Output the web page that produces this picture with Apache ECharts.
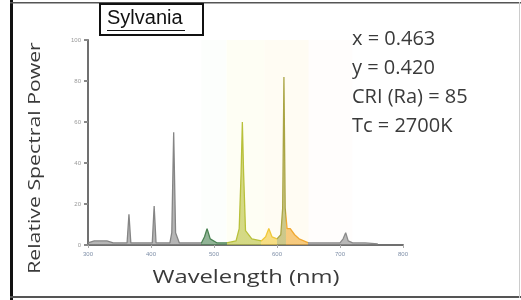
<!DOCTYPE html>
<html lang="en" style="height: 100%">
<head>
  <meta charset="utf-8">
</head>
<body style="height: 100%; margin: 0; background: #fff">
  <div id="container" style="width: 521px; height: 300px"></div>
  <script src="https://fastly.jsdelivr.net/npm/echarts@6/dist/echarts.min.js"></script>
  <script>
    // spectrum (nm, relative power)
    var wavelength = [300, 310, 320, 330, 340, 355, 362, 365, 368, 380, 395, 402, 405, 408, 420, 430, 433, 436, 439, 445,
      470, 480, 485, 489, 494, 505, 520, 535, 540, 543, 545, 547, 550, 560, 575, 582, 587, 592, 600, 606, 609,
      611, 613, 616, 621, 628, 635, 650, 680, 700, 705, 709, 713, 720, 740, 760];
    var power = [1, 2, 2, 2, 1, 1, 1, 15, 1, 1, 1, 1, 19, 1, 1, 1, 6, 55, 6, 1,
      1, 1, 4, 8, 3, 1, 1, 2, 8, 35, 60, 35, 7, 3, 2, 4, 8, 4, 3, 5, 18,
      82, 18, 8, 8, 5, 3, 1, 1, 1, 3, 6, 2, 1, 1, 0.5];
    var xTicks = [300, 400, 500, 600, 700, 800];
    var yTicks = [0, 20, 40, 60, 80, 100];
    var stats = ['x = 0.463', 'y = 0.420', 'CRI (Ra) = 85', 'Tc = 2700K'];
    var brand = 'Sylvania';

    var dom = document.getElementById('container');
    var myChart = echarts.init(dom, null, { renderer: 'canvas' });

    var points = wavelength.map(function (w, i) { return [w, power[i]]; });

    var statText = stats.map(function (s, i) {
      return {
        type: 'text', left: 352, top: 29 + i * 29,
        style: { text: s, font: '20px "Open Sans"', fill: '#3a3a3a' }
      };
    });

    var option = {
      animation: false,
      grid: { left: 88, right: 118, top: 40, bottom: 55 },
      xAxis: {
        type: 'value', min: 300, max: 800, interval: 100,
        axisLine: { lineStyle: { color: '#707070', width: 2 } },
        axisTick: { show: true, length: 3, lineStyle: { color: '#aaa' } },
        axisLabel: { fontSize: 6, color: '#7f8fa8', margin: 6,
          formatter: function (v) { return xTicks.indexOf(v) >= 0 ? v : ''; } },
        splitLine: { show: false }
      },
      yAxis: {
        type: 'value', min: 0, max: 100, interval: 20,
        axisLine: { show: true, lineStyle: { color: '#707070', width: 2 } },
        axisTick: { show: true, length: 4, lineStyle: { color: '#888', width: 2 } },
        axisLabel: { fontSize: 6, color: '#999', margin: 7,
          formatter: function (v) { return yTicks.indexOf(v) >= 0 ? v : ''; } },
        splitLine: { show: false }
      },
      visualMap: {
        show: false, type: 'piecewise', dimension: 0,
        pieces: [
          { lt: 480, color: '#858585' },
          { gte: 480, lt: 520, color: '#4a8252' },
          { gte: 520, lt: 575, color: '#b8c03a' },
          { gte: 575, lt: 600, color: '#f0c838' },
          { gte: 600, lt: 614, color: '#aaa544' },
          { gte: 614, lt: 650, color: '#f0a830' },
          { gte: 650, color: '#8a8a8a' }
        ]
      },
      series: [
        {
          type: 'line', data: points, symbol: 'none',
          lineStyle: { width: 1.3 },
          areaStyle: { opacity: 0.6 },
          markArea: {
            silent: true,
            data: [
              [{ xAxis: 480, itemStyle: { color: 'rgba(215,240,215,0.08)' } }, { xAxis: 520 }],
              [{ xAxis: 520, itemStyle: { color: 'rgba(250,250,180,0.14)' } }, { xAxis: 580 }],
              [{ xAxis: 580, itemStyle: { color: 'rgba(255,235,170,0.14)' } }, { xAxis: 650 }],
              [{ xAxis: 650, itemStyle: { color: 'rgba(250,230,220,0.08)' } }, { xAxis: 720 }]
            ]
          }
        }
      ],
      graphic: [
        { type: 'rect', left: 10, top: 0, shape: { width: 3, height: 300 }, style: { fill: '#111' } },
        { type: 'rect', left: 10, top: 2, shape: { width: 511, height: 1.5 }, style: { fill: '#555' } },
        { type: 'rect', left: 10, top: 296, shape: { width: 511, height: 2 }, style: { fill: '#555' } },
        { type: 'rect', left: 519, top: 2, shape: { width: 1, height: 296 }, style: { fill: '#ccc' } },
        { type: 'rect', left: 99, top: 3, shape: { width: 103, height: 31 },
          style: { fill: '#fff', stroke: '#111', lineWidth: 2 } },
        { type: 'text', left: 107, top: 8, style: { text: brand, font: '20px "Liberation Sans"', fill: '#111' } },
        { type: 'rect', left: 107, top: 30, shape: { width: 78, height: 1 }, style: { fill: '#111' } },
        { type: 'text', x: 27, y: 158, rotation: Math.PI / 2, scaleX: 1.25,
          style: { text: 'Relative Spectral Power', font: '17px "Open Sans"', fill: '#3a3a3a',
            align: 'center', verticalAlign: 'top' } },
        { type: 'text', x: 246, y: 269, scaleX: 1.32,
          style: { text: 'Wavelength (nm)', font: '18px "Open Sans"', fill: '#3a3a3a', align: 'center' } }
      ].concat(statText)
    };

    myChart.setOption(option);
    window.addEventListener('resize', myChart.resize);
  </script>
</body>
</html>
